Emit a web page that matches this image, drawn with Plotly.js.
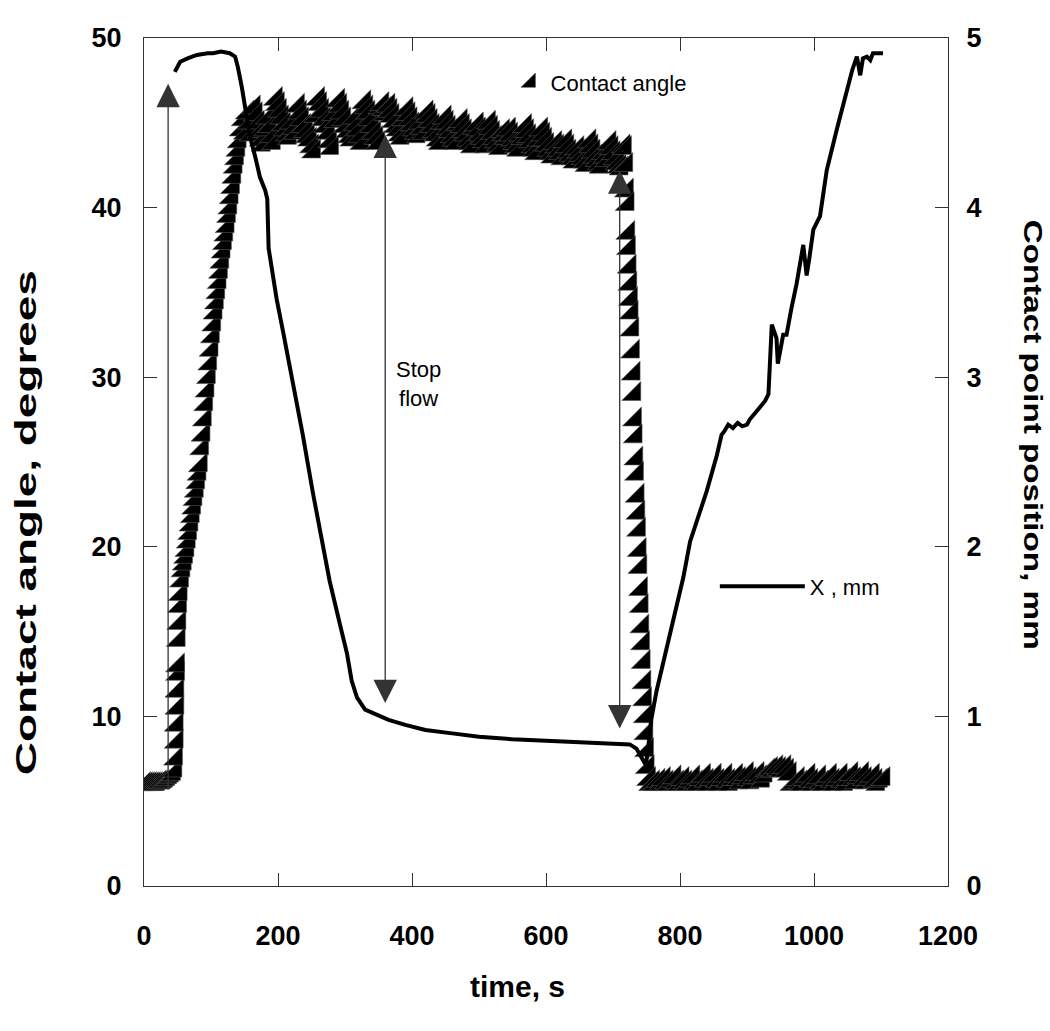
<!DOCTYPE html>
<html><head><meta charset="utf-8">
<script src="https://cdn.plot.ly/plotly-3.0.1.min.js"></script>
<style>html,body{margin:0;padding:0;background:#fff}</style>
</head><body><div id="chart" style="width:1050px;height:1031px"></div>
<script>
// ---- Contact angle (degrees, left axis) ----
const angleTime = [
 0,3,6,9,12,15,18,21,24,27,30,33,36,39,42,45,47,
 48,49,49,50,50,51,51,52,53,54,55,57,59,61,63,65,67,69,71,73,75,77,79,81,83,85,87,89,91,93,95,97,99,101,103,105,107,109,111,113,115,117,119,121,123,125,127,129,131,133,135,137,139,141,143,
 146,149,152,155,158,161,164,167,170,173,176,179,182,185,188,191,194,197,200,203,206,209,212,215,218,221,224,227,230,233,236,239,242,245,248,251,254,257,260,263,266,269,272,275,278,281,284,287,290,293,296,299,302,305,308,311,314,317,320,323,326,329,332,335,338,341,344,347,350,353,356,359,362,365,368,371,374,377,380,383,386,389,392,395,398,401,404,407,410,413,416,419,422,425,428,431,434,437,440,443,446,449,452,455,458,461,464,467,470,473,476,479,482,485,488,491,494,497,500,503,506,509,512,515,518,521,524,527,530,533,536,539,542,545,548,551,554,557,560,563,566,569,572,575,578,581,584,587,590,593,596,599,602,605,608,611,614,617,620,623,626,629,632,635,638,641,644,647,650,653,656,659,662,665,668,671,674,677,680,683,686,689,692,695,698,701,704,707,710,713,716,
 718,720,721,722,723,724,725,726,727,728,729,730,731,732,733,734,735,736,737,738,739,740,741,742,743,744,745,746,747,748,749,750,751,752,
 754,757,760,764,768,772,776,780,784,788,792,796,800,804,808,812,816,820,824,828,832,836,840,844,848,852,856,860,864,868,872,876,880,884,888,892,896,900,904,908,912,916,920,924,928,932,936,940,944,948,952,956,960,964,968,972,976,980,984,988,992,996,1000,1004,1008,1012,1016,1020,1024,1028,1032,1036,1040,1044,1048,1052,1056,1060,1064,1068,1072,1076,1080,1084,1088,1092,1096,1100,1104
];
const angleDeg = [
 6.0,6.0,6.0,6.0,6.0,6.0,6.0,6.0,6.1,6.1,6.1,6.2,6.3,6.4,6.5,6.6,6.8,
 7.5,8.5,9.5,10.5,11.5,12.5,13.0,14.5,15.5,16.5,17.2,18.0,18.6,19.0,19.4,19.8,20.3,20.8,21.3,21.8,22.3,22.8,23.3,23.8,24.3,24.8,25.8,26.6,27.5,28.4,29.2,30.0,30.8,31.6,32.4,33.1,33.8,34.4,35.0,35.6,36.2,36.8,37.4,37.9,38.4,38.9,39.5,40.0,40.6,41.2,41.8,42.4,42.9,43.4,43.9,
 44.6,45.2,44.4,45.6,45.0,44.3,45.9,45.5,45.0,44.5,44.0,43.7,44.6,45.3,44.8,44.2,43.8,46.4,46.1,45.7,45.3,44.9,44.6,44.3,44.1,45.0,44.7,44.4,46.0,45.6,45.2,44.8,44.5,44.2,44.0,43.6,43.3,45.4,46.4,46.1,45.7,45.2,44.8,44.4,43.9,43.5,45.5,45.1,46.3,46.0,45.6,45.2,44.8,44.5,44.2,44.0,45.3,44.9,44.6,44.2,43.8,46.2,45.9,45.6,45.2,44.8,44.4,44.1,43.8,45.9,46.1,45.8,45.5,46.0,45.7,45.4,45.1,44.8,44.6,44.3,44.1,45.2,45.8,45.5,45.2,44.9,44.6,44.4,44.2,45.0,44.7,44.4,45.6,45.4,45.1,44.8,44.5,44.3,44.0,43.8,45.0,45.3,45.0,44.7,44.5,44.2,44.0,43.8,44.9,45.1,44.8,44.5,44.3,44.0,43.8,43.6,44.7,44.9,44.6,44.3,44.1,43.9,43.6,45.0,44.7,44.4,44.1,43.9,43.7,43.5,44.5,44.3,44.1,44.6,44.3,44.0,43.8,43.6,43.4,44.3,44.1,44.8,44.5,44.2,43.9,43.6,43.4,43.2,44.0,44.6,44.3,44.0,43.7,43.4,43.2,43.0,43.8,43.6,43.4,43.2,42.9,43.9,43.6,43.3,43.1,42.9,42.7,43.5,43.3,43.1,42.9,42.7,42.5,43.9,43.6,43.3,43.0,42.8,42.6,42.4,43.2,43.0,42.8,43.8,43.5,43.2,42.9,42.6,42.4,42.3,43.6,
 43.5,42.5,41.0,40.2,38.5,37.6,36.5,35.5,34.6,33.8,32.8,31.5,30.2,29.0,27.5,26.5,25.2,24.3,23.0,22.0,21.0,19.8,18.8,17.5,16.5,15.3,14.3,13.2,12.0,11.0,10.0,9.0,8.0,7.0,
 6.3,6.0,6.1,6.0,6.2,6.0,6.3,6.1,6.0,6.2,6.4,6.1,6.0,6.3,6.1,6.0,6.2,6.4,6.1,6.0,6.3,6.5,6.2,6.0,6.3,6.5,6.2,6.0,6.3,6.5,6.2,6.0,6.3,6.5,6.3,6.1,6.4,6.6,6.3,6.1,6.4,6.6,6.4,6.2,6.5,6.8,6.9,6.8,7.0,6.9,6.8,7.0,6.8,6.6,6.0,6.1,6.3,6.1,6.0,6.3,6.5,6.2,6.0,6.2,6.4,6.1,6.0,6.3,6.5,6.2,6.0,6.3,6.5,6.2,6.0,6.3,6.6,6.3,6.1,6.4,6.6,6.3,6.1,6.3,6.5,6.2,6.0,6.2,6.3
];
// ---- Contact point position X (mm, right axis) ----
const posTime = [46,54,65,79,95,103,115,128,136,140,146,151,158,166,173,181,184,186,191,198,208,222,237,252,265,277,292,303,310,318,330,347,365,390,420,460,500,550,600,650,700,725,735,742,748,751,757,765,780,790,805,815,830,840,855,862,866,872,879,886,893,900,904,915,927,932,937,944,946,954,959,966,974,984,989,993,999,1009,1019,1034,1046,1057,1064,1069,1073,1079,1084,1088,1095,1103];
const posMm = [4.80,4.86,4.88,4.90,4.91,4.91,4.92,4.91,4.89,4.83,4.71,4.58,4.42,4.30,4.18,4.10,4.05,3.76,3.62,3.46,3.26,2.98,2.66,2.32,2.06,1.80,1.55,1.37,1.21,1.11,1.04,1.01,0.98,0.95,0.92,0.90,0.88,0.865,0.855,0.845,0.84,0.835,0.81,0.76,0.72,0.76,0.98,1.15,1.40,1.55,1.82,2.03,2.20,2.33,2.54,2.66,2.68,2.72,2.70,2.73,2.71,2.72,2.75,2.80,2.86,2.90,3.31,3.23,3.08,3.25,3.25,3.40,3.55,3.78,3.60,3.70,3.87,3.95,4.22,4.46,4.65,4.81,4.89,4.78,4.88,4.89,4.87,4.91,4.91,4.91];

const xTicks = [0,200,400,600,800,1000,1200];
const yTicks = [0,10,20,30,40,50];
const y2Ticks = [0,1,2,3,4,5];

const FONT = 'Liberation Sans, Arial, Helvetica, sans-serif';
const tickFont = {family: FONT, size: 27, weight: 'bold', color: '#000'};
const axisBase = {
  ticks: 'inside', ticklen: 13, tickwidth: 1, tickcolor: '#333',
  showline: true, linecolor: '#333', linewidth: 1,
  showgrid: false, zeroline: false, tickfont: tickFont, automargin: false
};

const data = [
  {
    x: angleTime, y: angleDeg, type: 'scatter', mode: 'markers',
    name: 'Contact angle', legend: 'legend', showlegend: true, yaxis: 'y',
    marker: {symbol: 'triangle-se', size: 21, color: '#000', line: {color: '#555', width: 0.6}}
  },
  {
    x: posTime, y: posMm, type: 'scatter', mode: 'lines',
    name: 'X , mm', legend: 'legend2', showlegend: true, yaxis: 'y2',
    line: {color: '#000', width: 4}
  }
];

const arrowStyle = {xref: 'x', yref: 'y', axref: 'x', ayref: 'y', text: '', showarrow: true,
  arrowhead: 2, arrowsize: 3.6, arrowwidth: 1.3, arrowcolor: '#333'};

const layout = {
  width: 1050, height: 1031,
  showlegend: true,
  margin: {l: 144, r: 102, t: 38, b: 145, pad: 0},
  paper_bgcolor: '#fff', plot_bgcolor: '#fff',
  font: {family: FONT, color: '#000'},
  xaxis: Object.assign({}, axisBase, {range: [0, 1200], tickvals: xTicks, mirror: 'ticks', ticklabelstandoff: 26}),
  yaxis: Object.assign({}, axisBase, {range: [0, 50], tickvals: yTicks, mirror: false, ticklabelstandoff: 16}),
  yaxis2: Object.assign({}, axisBase, {range: [0, 5], tickvals: y2Ticks, overlaying: 'y', side: 'right', ticklabelstandoff: 12}),
  legend: {x: 0.456, y: 0.972, xanchor: 'left', yanchor: 'top', bgcolor: 'rgba(0,0,0,0)', borderwidth: 0,
    font: {family: FONT, size: 22, color: '#000'}},
  legend2: {x: 0.71, y: 0.378, xanchor: 'left', yanchor: 'top', bgcolor: 'rgba(0,0,0,0)', borderwidth: 0,
    itemwidth: 85, font: {family: FONT, size: 22, color: '#000'}},
  annotations: [
    {xref: 'paper', yref: 'paper', x: 0.464, y: -0.118, xanchor: 'center', yanchor: 'middle', showarrow: false,
      text: 'time, s', font: {family: FONT, size: 30, weight: 'bold'}},
    {xref: 'paper', yref: 'paper', x: -0.1468, y: 0.429, xanchor: 'center', yanchor: 'middle', showarrow: false,
      textangle: -90, text: 'Contact angle, degrees', font: {family: FONT, size: 29, weight: 'bold'}},
    {xref: 'paper', yref: 'paper', x: 1.1057, y: 0.532, xanchor: 'center', yanchor: 'middle', showarrow: false,
      textangle: 90, text: 'Contact point position, mm', font: {family: FONT, size: 25, weight: 'bold'}},
    {xref: 'x', yref: 'y', x: 410, y: 29.6, showarrow: false, text: 'Stop<br>flow', align: 'center',
      font: {family: FONT, size: 22}},
    Object.assign({}, arrowStyle, {x: 36, y: 47.3, ax: 36, ay: 5.6}),
    Object.assign({}, arrowStyle, {x: 360, y: 44.3, ax: 360, ay: 10.7, arrowside: 'end+start', startarrowhead: 2, startarrowsize: 3.6}),
    Object.assign({}, arrowStyle, {x: 710, y: 42.2, ax: 710, ay: 9.2, arrowside: 'end+start', startarrowhead: 2, startarrowsize: 3.6})
  ]
};

Plotly.newPlot('chart', data, layout, {staticPlot: true, displayModeBar: false}).then(function (gd) {
  const fit = {'Contact angle, degrees': 505, 'Contact point position, mm': 430};
  gd.querySelectorAll('.annotation-text').forEach(function (t) {
    const L = fit[t.textContent];
    if (L) { t.setAttribute('textLength', L); t.setAttribute('lengthAdjust', 'spacingAndGlyphs'); }
  });
  const p = gd.querySelector('.legend2 .legendlines path');
  if (p) p.setAttribute('d', 'M5,0h85');
});
</script>
</body></html>
